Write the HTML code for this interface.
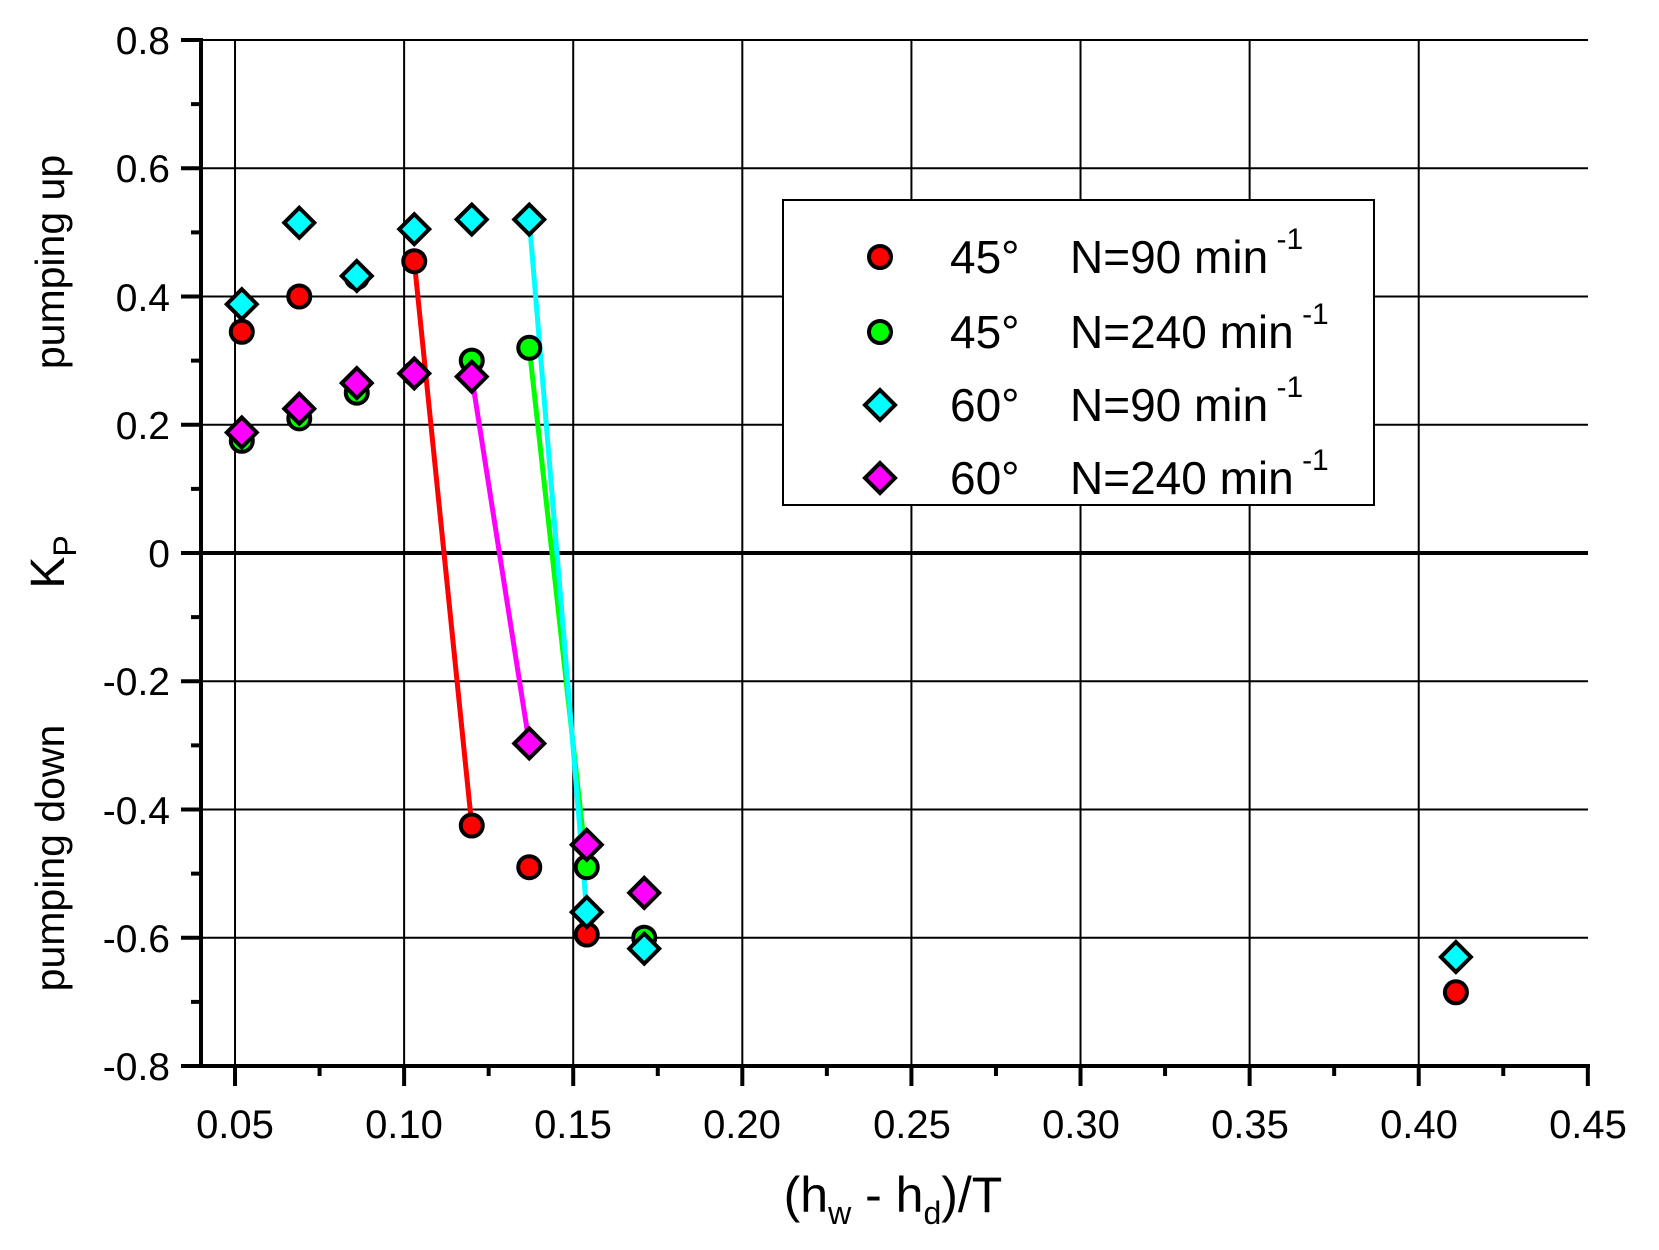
<!DOCTYPE html>
<html><head><meta charset="utf-8"><style>
html,body{margin:0;padding:0;background:#fff;}
svg{display:block;font-family:"Liberation Sans",Arial,sans-serif;}
</style></head><body>
<svg id="s" width="1659" height="1250" viewBox="0 0 1659 1250" xmlns="http://www.w3.org/2000/svg">
<rect width="1659" height="1250" fill="#fff"/>
<g id="grid" stroke="#000" stroke-width="2"></g>
<g id="lines" stroke-width="5"></g>
<g id="marks" stroke="#000" stroke-width="4"></g>
<g id="axes" stroke="#000"></g>
<g font-size="39" text-anchor="end" fill="#000">
<text x="170" y="54">0.8</text>
<text x="170" y="182">0.6</text>
<text x="170" y="311">0.4</text>
<text x="170" y="439">0.2</text>
<text x="170" y="567">0</text>
<text x="170" y="695">-0.2</text>
<text x="170" y="824">-0.4</text>
<text x="170" y="952">-0.6</text>
<text x="170" y="1080">-0.8</text>
</g>
<g font-size="40" text-anchor="middle" fill="#000">
<text x="235" y="1138">0.05</text>
<text x="404" y="1138">0.10</text>
<text x="573" y="1138">0.15</text>
<text x="742" y="1138">0.20</text>
<text x="912" y="1138">0.25</text>
<text x="1081" y="1138">0.30</text>
<text x="1250" y="1138">0.35</text>
<text x="1419" y="1138">0.40</text>
<text x="1588" y="1138">0.45</text>
</g>
<text x="893" y="1212" font-size="50" text-anchor="middle">(h<tspan font-size="32" dy="12">w</tspan><tspan dy="-12"> - h</tspan><tspan font-size="32" dy="12">d</tspan><tspan dy="-12">)/T</tspan></text>
<text transform="translate(64,562) rotate(-90)" font-size="48" text-anchor="middle">K<tspan font-size="32" dy="12">P</tspan></text>
<text transform="translate(64,262) rotate(-90)" font-size="41" text-anchor="middle">pumping up</text>
<text transform="translate(64,858) rotate(-90)" font-size="41" text-anchor="middle">pumping down</text>
<rect x="783" y="200" width="591" height="305" fill="#fff" stroke="#000" stroke-width="2"/>
<g font-size="46" fill="#000">
<text x="950" y="273">45°</text><text x="1070" y="273">N=90 min<tspan font-size="30" dy="-24"> -1</tspan></text>
<text x="950" y="348">45°</text><text x="1070" y="348">N=240 min<tspan font-size="30" dy="-24"> -1</tspan></text>
<text x="950" y="421">60°</text><text x="1070" y="421">N=90 min<tspan font-size="30" dy="-24"> -1</tspan></text>
<text x="950" y="494">60°</text><text x="1070" y="494">N=240 min<tspan font-size="30" dy="-24"> -1</tspan></text>
</g>
<g id="leg" stroke="#000" stroke-width="4"></g>
</svg>
<script>
var NS="http://www.w3.org/2000/svg";
function X(x){return 201.2+(x-0.04)*3382;}
function Y(y){return 40+(0.8-y)*641.25;}
function el(p,t,a){var e=document.createElementNS(NS,t);for(var k in a)e.setAttribute(k,a[k]);document.getElementById(p).appendChild(e);return e;}
for(var i=1;i<=8;i++){var x=X(0.05*i);el('grid','line',{x1:x,x2:x,y1:40,y2:1066});}
for(var j=0;j<=8;j++){var y=Y(0.8-0.2*j);el('grid','line',{x1:201,x2:1588,y1:y,y2:y,'stroke-width':(j==4?4:2)});}
el('axes','line',{x1:201,x2:201,y1:38,y2:1068,'stroke-width':4});
el('axes','line',{x1:199,x2:1590,y1:1066,y2:1066,'stroke-width':4});
for(var j=0;j<=16;j++){var y=Y(0.8-0.1*j);var L=(j%2==0)?20:10;el('axes','line',{x1:201-L,x2:201,y1:y,y2:y,'stroke-width':4});}
for(var i=0;i<=16;i++){var x=X(0.05+0.025*i);var L=(i%2==0)?20:10;el('axes','line',{x1:x,x2:x,y1:1066,y2:1066+L,'stroke-width':4});}
function ln(a,b,c,d,col){el('lines','line',{x1:X(a),y1:Y(b),x2:X(c),y2:Y(d),stroke:col});}
ln(0.103,0.455,0.12,-0.425,'#ff0000');
ln(0.12,0.275,0.137,-0.297,'#ff00ff');
ln(0.137,0.32,0.154,-0.49,'#00ff00');
ln(0.137,0.52,0.154,-0.56,'#00ffff');
function circ(g,x,y,c){el(g,'circle',{cx:x,cy:y,r:11,fill:c});}
function dia(g,x,y,c){var r=15;el(g,'polygon',{points:(x)+','+(y-r)+' '+(x+r)+','+y+' '+x+','+(y+r)+' '+(x-r)+','+y,fill:c});}
var red=[[0.052,0.345],[0.069,0.40],[0.086,0.43],[0.103,0.455],[0.12,-0.425],[0.137,-0.49],[0.154,-0.595],[0.411,-0.685]];
var green=[[0.052,0.175],[0.069,0.21],[0.086,0.25],[0.103,0.28],[0.12,0.30],[0.137,0.32],[0.154,-0.49],[0.171,-0.6]];
var cyan=[[0.052,0.388],[0.069,0.515],[0.086,0.432],[0.103,0.505],[0.12,0.52],[0.137,0.52],[0.154,-0.56],[0.171,-0.617],[0.411,-0.63]];
var mag=[[0.052,0.188],[0.069,0.225],[0.086,0.265],[0.103,0.28],[0.12,0.275],[0.137,-0.297],[0.154,-0.455],[0.171,-0.53]];
red.forEach(function(p){circ('marks',X(p[0]),Y(p[1]),'#ff0000');});
green.forEach(function(p){circ('marks',X(p[0]),Y(p[1]),'#00ff00');});
cyan.forEach(function(p){dia('marks',X(p[0]),Y(p[1]),'#00ffff');});
mag.forEach(function(p){dia('marks',X(p[0]),Y(p[1]),'#ff00ff');});
circ('leg',880,257,'#ff0000');circ('leg',880,332,'#00ff00');dia('leg',880,405,'#00ffff');dia('leg',880,478,'#ff00ff');
</script>
</body></html>
